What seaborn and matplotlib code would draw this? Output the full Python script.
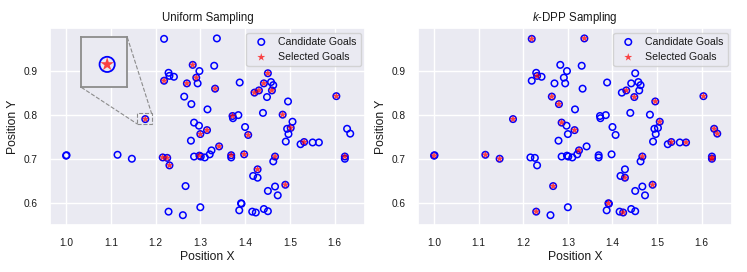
import numpy as np
import matplotlib
matplotlib.use("Agg")
import matplotlib.pyplot as plt
import seaborn as sns
from mpl_toolkits.axes_grid1.inset_locator import mark_inset

# candidate goals (shared by both panels)
candidate_x = [
    1.000, 1.001, 1.115, 1.147, 1.177, 1.219, 1.219, 1.229, 1.231, 1.241,
    1.216, 1.226, 1.231, 1.229, 1.261, 1.267, 1.264, 1.270, 1.283, 1.280,
    1.291, 1.294, 1.298, 1.279, 1.286, 1.297, 1.300, 1.286, 1.298, 1.301,
    1.310, 1.316, 1.315, 1.321, 1.325, 1.300, 1.331, 1.333, 1.337, 1.342,
    1.369, 1.369, 1.372, 1.373, 1.385, 1.388, 1.398, 1.400, 1.407, 1.391,
    1.392, 1.387, 1.418, 1.428, 1.428, 1.416, 1.424, 1.421, 1.431, 1.440,
    1.442, 1.449, 1.451, 1.458, 1.463, 1.460, 1.442, 1.451, 1.451, 1.463,
    1.467, 1.467, 1.473, 1.484, 1.490, 1.491, 1.496, 1.494, 1.497, 1.502,
    1.506, 1.524, 1.532, 1.551, 1.565, 1.604, 1.623, 1.623, 1.628, 1.635,
]
candidate_y = [
    0.707, 0.708, 0.709, 0.700, 0.790, 0.972, 0.877, 0.895, 0.888, 0.886,
    0.703, 0.702, 0.685, 0.580, 0.572, 0.638, 0.841, 0.871, 0.913, 0.824,
    0.884, 0.871, 0.899, 0.741, 0.782, 0.775, 0.756, 0.705, 0.707, 0.705,
    0.703, 0.812, 0.765, 0.710, 0.719, 0.590, 0.911, 0.859, 0.973, 0.728,
    0.708, 0.703, 0.797, 0.792, 0.799, 0.873, 0.710, 0.772, 0.754, 0.599,
    0.598, 0.583, 0.661, 0.676, 0.657, 0.580, 0.578, 0.850, 0.855, 0.804,
    0.871, 0.840, 0.894, 0.874, 0.867, 0.855, 0.586, 0.581, 0.627, 0.694,
    0.705, 0.637, 0.617, 0.800, 0.641, 0.739, 0.830, 0.768, 0.756, 0.770,
    0.784, 0.733, 0.738, 0.737, 0.737, 0.842, 0.705, 0.700, 0.768, 0.757,
]

# goals picked by uniform sampling
uniform_x = [
    1.177, 1.219, 1.216, 1.226, 1.231, 1.270, 1.283, 1.291, 1.300, 1.298,
    1.315, 1.333, 1.342, 1.369, 1.372, 1.398, 1.407, 1.428, 1.421, 1.431,
    1.442, 1.451, 1.460, 1.467, 1.484, 1.490, 1.502, 1.532, 1.604, 1.623,
]
uniform_y = [
    0.790, 0.877, 0.703, 0.702, 0.685, 0.871, 0.913, 0.884, 0.756, 0.707,
    0.765, 0.859, 0.728, 0.708, 0.797, 0.710, 0.754, 0.676, 0.850, 0.855,
    0.871, 0.894, 0.855, 0.705, 0.800, 0.641, 0.770, 0.738, 0.842, 0.705,
]

# goals picked by k-DPP sampling
kdpp_x = [
    1.000, 1.115, 1.147, 1.177, 1.219, 1.337, 1.231, 1.264, 1.280, 1.286,
    1.315, 1.325, 1.267, 1.229, 1.391, 1.424, 1.428, 1.431, 1.449, 1.496,
    1.604, 1.506, 1.532, 1.565, 1.467, 1.490, 1.623, 1.623, 1.628, 1.635,
]
kdpp_y = [
    0.707, 0.709, 0.700, 0.790, 0.972, 0.973, 0.888, 0.841, 0.824, 0.782,
    0.765, 0.719, 0.638, 0.580, 0.599, 0.578, 0.657, 0.855, 0.840, 0.830,
    0.842, 0.784, 0.738, 0.737, 0.705, 0.641, 0.703, 0.700, 0.768, 0.757,
]

sns.set_theme(style="darkgrid")
plt.rcParams["font.family"] = ["Liberation Sans", "DejaVu Sans"]
plt.rcParams["mathtext.fontset"] = "custom"
plt.rcParams["mathtext.rm"] = "Liberation Sans"
plt.rcParams["mathtext.it"] = "Liberation Sans:italic"

fig = plt.figure(figsize=(7.47, 2.72), dpi=100)
ax1 = fig.add_axes([0.0669, 0.171, 0.4217, 0.725])
ax2 = fig.add_axes([0.5596, 0.171, 0.4203, 0.725])


def draw_goals(ax, sel_x, sel_y, s_cand=22, s_sel=36, lw=1.1):
    sns.scatterplot(x=candidate_x, y=candidate_y, ax=ax, marker="o", s=s_cand,
                    facecolor="none", edgecolor="blue", linewidth=lw,
                    label="Candidate Goals", zorder=2)
    sns.scatterplot(x=sel_x, y=sel_y, ax=ax, marker="*", s=s_sel,
                    color="red", edgecolor="none", alpha=0.72,
                    label="Selected Goals", zorder=3)


for ax, sx, sy, title in [(ax1, uniform_x, uniform_y, "Uniform Sampling"),
                          (ax2, kdpp_x, kdpp_y, "$k$-DPP Sampling")]:
    draw_goals(ax, sx, sy)
    ax.set_title(title, fontsize=8.3, pad=5, color=".1")
    ax.set_xlabel("Position X", fontsize=8.7, labelpad=2, color=".1")
    ax.set_ylabel("Position Y", fontsize=8.7, labelpad=3, color=".1")
    ax.set_xticks([1.0, 1.1, 1.2, 1.3, 1.4, 1.5, 1.6])
    ax.set_yticks([0.6, 0.7, 0.8, 0.9])
    ax.tick_params(axis="both", labelsize=7.3, pad=3, labelcolor=".1")
    ax.set_xlim(0.964, 1.668)
    ax.set_ylim(0.5486, 0.996)
    leg = ax.legend(loc="upper right", fontsize=7.6, borderaxespad=0.4,
                    handletextpad=0.6, borderpad=0.4, labelspacing=0.5)
    for t in leg.get_texts():
        t.set_color(".1")

# zoomed view of one selected goal
axins = fig.add_axes([0.1088, 0.679, 0.0616, 0.1838])
draw_goals(axins, uniform_x, uniform_y, s_cand=120, s_sel=105, lw=1.3)
axins.set_xlim(1.159, 1.191)
axins.set_ylim(0.779, 0.803)
axins.set_xticks([])
axins.set_yticks([])
axins.set_xlabel("")
axins.set_ylabel("")
axins.get_legend().remove()
for sp in axins.spines.values():
    sp.set_edgecolor("0.55")
    sp.set_linewidth(1.3)
mark_inset(ax1, axins, loc1=1, loc2=3, fc="none", ec="0.55", ls="--", lw=0.8)

fig.savefig("out.png", dpi=100)
